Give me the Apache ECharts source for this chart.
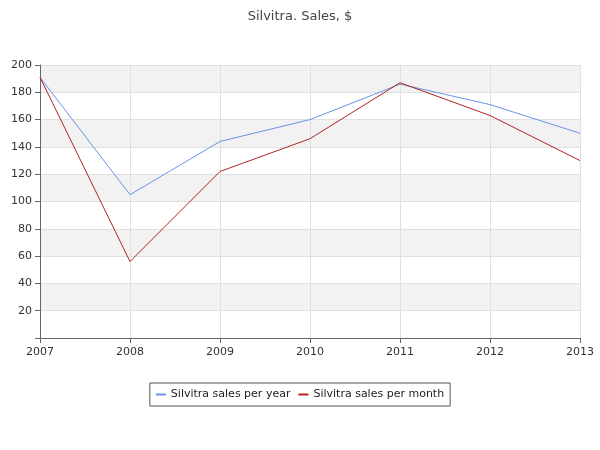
<!DOCTYPE html>
<html>
<head>
<meta charset="UTF-8" />
<script src="https://cdn.jsdelivr.net/npm/echarts@6/dist/echarts.min.js"></script>
<style>body{margin:0}#main{width:600px;height:450px}</style>
</head>
<body>
<div id="main"></div>
<script type="text/javascript">
var years = ['2007', '2008', '2009', '2010', '2011', '2012', '2013'];
var perYear = [191, 105, 144, 160, 186, 171, 150];
var perMonth = [191, 56, 122, 146, 187, 163, 130];

var myChart = echarts.init(document.getElementById('main'));
var option = {
    animation: false,
    title: {
        text: 'Silvitra. Sales, $',
        left: 'center',
        top: 5,
        textStyle: { fontFamily: 'DejaVu Sans', fontSize: 13, fontWeight: 'normal', color: '#444' }
    },
    legend: {
        bottom: 44,
        left: 'center',
        borderColor: '#555',
        borderWidth: 1,
        borderRadius: 0,
        padding: [6, 6],
        itemWidth: 10,
        itemHeight: 2,
        icon: 'rect',
        textStyle: { fontFamily: 'DejaVu Sans', fontSize: 11, color: '#222' },
        data: ['Silvitra sales per year', 'Silvitra sales per month']
    },
    grid: { left: 40, right: 20, top: 65, bottom: 112 },
    xAxis: {
        type: 'category',
        data: years,
        boundaryGap: false,
        axisLine: { lineStyle: { color: '#666' } },
        axisTick: { show: true, alignWithLabel: true, lineStyle: { color: '#666' } },
        axisLabel: { color: '#333', fontFamily: 'DejaVu Sans', fontSize: 11, margin: 9 },
        splitLine: { show: true, lineStyle: { color: '#e0e0e0' } }
    },
    yAxis: {
        type: 'value',
        min: 0,
        max: 200,
        interval: 20,
        axisLine: { show: true, lineStyle: { color: '#666' } },
        axisTick: { show: true, lineStyle: { color: '#666' } },
        axisLabel: {
            color: '#333', fontFamily: 'DejaVu Sans', fontSize: 11,
            formatter: function (v) { return v === 0 ? '' : v; }
        },
        splitLine: { show: true, lineStyle: { color: '#e0e0e0' } },
        splitArea: { show: true, areaStyle: { color: ['#ffffff', '#f2f2f2'] } }
    },
    series: [
        {
            name: 'Silvitra sales per year',
            type: 'line',
            data: perYear,
            symbol: 'none',
            color: '#6a94e6',
            lineStyle: { width: 1 }
        },
        {
            name: 'Silvitra sales per month',
            type: 'line',
            data: perMonth,
            symbol: 'none',
            color: '#b22222',
            lineStyle: { width: 1 }
        }
    ]
};
myChart.setOption(option);
</script>
</body>
</html>
